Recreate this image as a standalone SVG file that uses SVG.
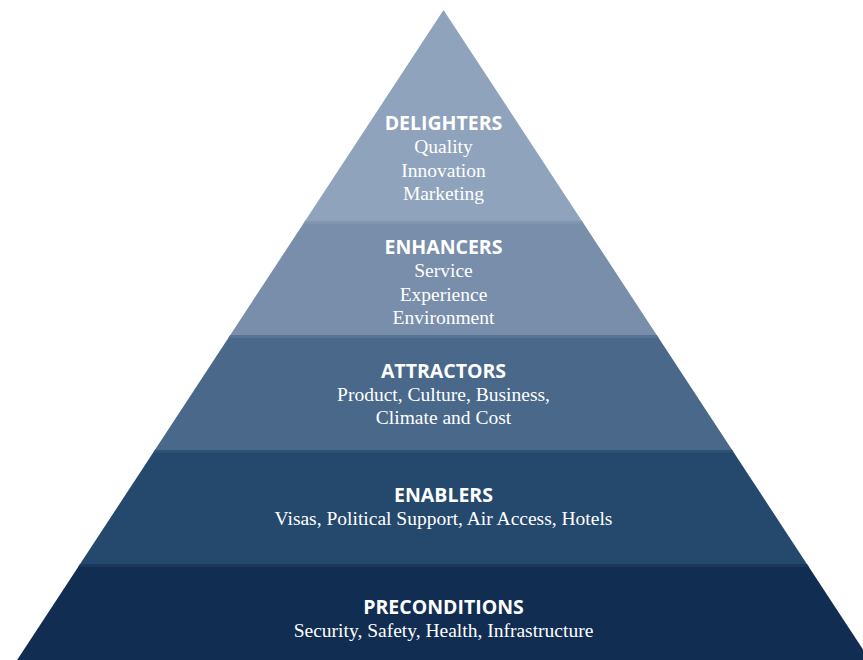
<svg xmlns="http://www.w3.org/2000/svg" width="863" height="660" viewBox="0 0 863 660">
<style>
.h{font-family:"Open Sans","Liberation Sans",sans-serif;font-weight:700;font-size:19.5px;fill:#ffffff;text-anchor:middle}
.b{font-family:"Liberation Serif","DejaVu Serif",serif;font-size:19.5px;fill:#ffffff;text-anchor:middle}
</style>
<rect width="863" height="660" fill="#ffffff"/>
<g id="delighters">
<polygon points="443.5,10 581.6,220.5 305.4,220.5" fill="#8FA3BD"/>
<text class="h" x="443.5" y="129.5">DELIGHTERS</text>
<text class="b" x="443.5" y="153">Quality</text>
<text class="b" x="443.5" y="176.5">Innovation</text>
<text class="b" x="443.5" y="200">Marketing</text>
</g>
<g id="enhancers">
<polygon points="305.4,220.5 581.6,220.5 656.7,335 230.3,335" fill="#788EAB"/>
<polygon points="305.4,220.5 581.6,220.5 583.6,223.5 303.4,223.5" fill="#8297B2"/>
<text class="h" x="443.5" y="253.5">ENHANCERS</text>
<text class="b" x="443.5" y="277">Service</text>
<text class="b" x="443.5" y="300.5">Experience</text>
<text class="b" x="443.5" y="324">Environment</text>
</g>
<g id="attractors">
<polygon points="230.3,335 656.7,335 731.8,449.5 155.2,449.5" fill="#49688A"/>
<polygon points="230.3,335 656.7,335 658.7,338 228.3,338" fill="#557393"/>
<text class="h" x="443.5" y="377.5">ATTRACTORS</text>
<text class="b" x="443.5" y="400.5">Product, Culture, Business,</text>
<text class="b" x="443.5" y="424">Climate and Cost</text>
</g>
<g id="enablers">
<polygon points="155.2,449.5 731.8,449.5 806.9,564 80.1,564" fill="#24496C"/>
<polygon points="155.2,449.5 731.8,449.5 733.8,452.5 153.2,452.5" fill="#2F5476"/>
<text class="h" x="443.5" y="501.5">ENABLERS</text>
<text class="b" x="443.5" y="525">Visas, Political Support, Air Access, Hotels</text>
</g>
<g id="preconditions">
<polygon points="80.1,564 806.9,564 869.9,660 17.1,660" fill="#112D51"/>
<polygon points="80.1,564 806.9,564 808.9,567 78.1,567" fill="#1A385C"/>
<text class="h" x="443.5" y="614">PRECONDITIONS</text>
<text class="b" x="443.5" y="637">Security, Safety, Health, Infrastructure</text>
</g>
<g id="connectors"/>
</svg>
